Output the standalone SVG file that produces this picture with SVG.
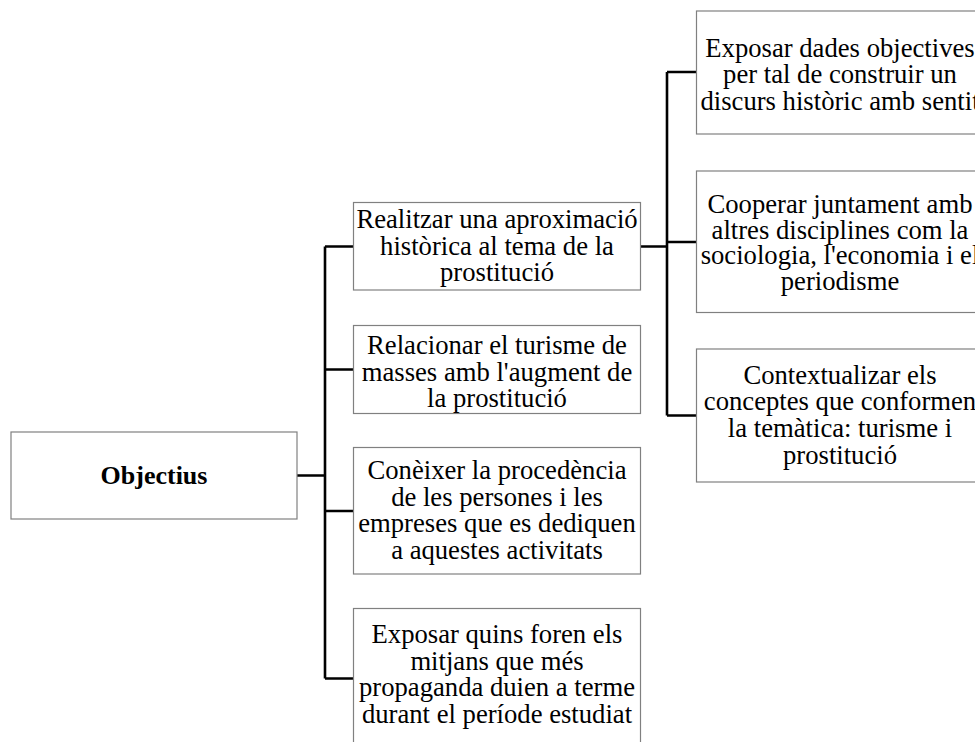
<svg xmlns="http://www.w3.org/2000/svg" width="975" height="742" viewBox="0 0 975 742">
<style>
.box{fill:#fff;stroke:#808080;stroke-width:1.2}
.t{font-family:"Liberation Serif","Times New Roman",serif;font-size:26.67px;fill:#000;text-anchor:middle}
.b{font-weight:bold;font-size:26px}
.c{fill:none;stroke:#000;stroke-width:2.6}
</style>
<rect width="975" height="742" fill="#fff"/>
<g id="connectors">
<path class="c" d="M297,475.5H325M325,246.5V678.5M325,246.5H353M325,369.5H353M325,511H353M325,678.5H353"/>
<path class="c" d="M641,246.5H667M667,72V415.5M667,72H696M667,242H696M667,415.5H696"/>
</g>
<g id="n-objectius">
<rect class="box" x="11" y="432" width="286" height="87"/>
<text class="t b" x="154" y="484">Objectius</text>
</g>
<g id="n-realitzar">
<rect class="box" x="353.5" y="202.5" width="287" height="87.5"/>
<text class="t" x="497" y="228">Realitzar una aproximació</text>
<text class="t" x="497" y="254.7">històrica al tema de la</text>
<text class="t" x="497" y="281.3">prostitució</text>
</g>
<g id="n-relacionar">
<rect class="box" x="353.5" y="325.5" width="287" height="88"/>
<text class="t" x="497" y="354">Relacionar el turisme de</text>
<text class="t" x="497" y="380.7">masses amb l'augment de</text>
<text class="t" x="497" y="407.3">la prostitució</text>
</g>
<g id="n-coneixer">
<rect class="box" x="353.5" y="447.5" width="287" height="126.5"/>
<text class="t" x="497" y="479">Conèixer la procedència</text>
<text class="t" x="497" y="505.7">de les persones i les</text>
<text class="t" x="497" y="532.3">empreses que es dediquen</text>
<text class="t" x="497" y="559">a aquestes activitats</text>
</g>
<g id="n-exposar-quins">
<rect class="box" x="353.5" y="608.5" width="287" height="142"/>
<text class="t" x="497" y="643">Exposar quins foren els</text>
<text class="t" x="497" y="669.7">mitjans que més</text>
<text class="t" x="497" y="696.3">propaganda duien a terme</text>
<text class="t" x="497" y="723">durant el període estudiat</text>
</g>
<g id="n-exposar-dades">
<rect class="box" x="696.5" y="11" width="288" height="123"/>
<text class="t" x="840" y="56.5">Exposar dades objectives</text>
<text class="t" x="840" y="83.2">per tal de construir un</text>
<text class="t" x="840" y="109.8">discurs històric amb sentit</text>
</g>
<g id="n-cooperar">
<rect class="box" x="696.5" y="171" width="288" height="141.5"/>
<text class="t" x="840" y="213">Cooperar juntament amb</text>
<text class="t" x="840" y="238.7">altres disciplines com la</text>
<text class="t" x="840" y="264.3">sociologia, l'economia i el</text>
<text class="t" x="840" y="290">periodisme</text>
</g>
<g id="n-contextualizar">
<rect class="box" x="696.5" y="349" width="288" height="133"/>
<text class="t" x="840" y="383.5">Contextualizar els</text>
<text class="t" x="840" y="410.2">conceptes que conformen</text>
<text class="t" x="840" y="436.8">la temàtica: turisme i</text>
<text class="t" x="840" y="463.5">prostitució</text>
</g>
</svg>
